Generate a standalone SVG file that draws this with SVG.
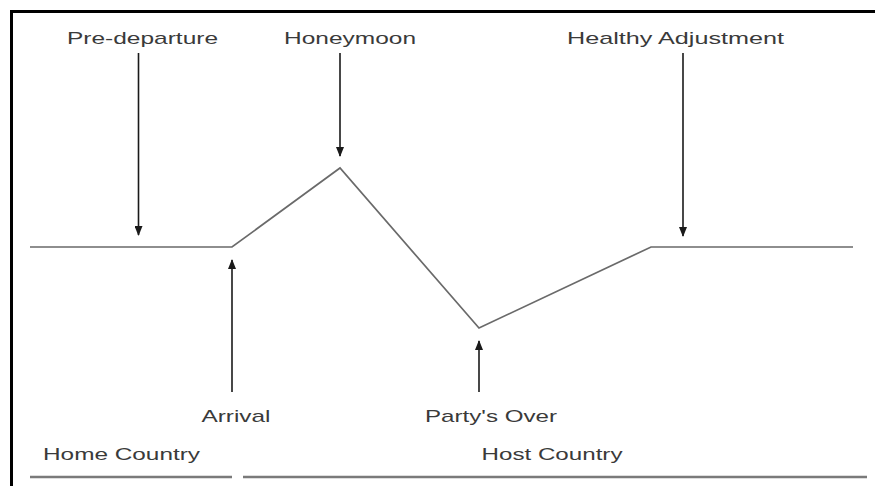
<svg xmlns="http://www.w3.org/2000/svg" width="875" height="486" viewBox="0 0 875 486">
  <defs>
    <style>
      .lbl { font-family: "Liberation Sans", Arial, sans-serif; font-size: 17px; fill: #3a3a3a; text-anchor: middle; }
      .frame { stroke: #000; stroke-width: 3; fill: none; }
      .curve { stroke: #6a6a6a; stroke-width: 1.7; fill: none; stroke-linejoin: miter; }
      .base { stroke: #7a7a7a; stroke-width: 2.5; fill: none; }
      .arrow { stroke: #1a1a1a; stroke-width: 1.6; fill: none; marker-end: url(#head); }
    </style>
    <marker id="head" viewBox="0 0 10 8" refX="9" refY="4" markerWidth="10" markerHeight="8" markerUnits="userSpaceOnUse" orient="auto">
      <path d="M0,0 L10,4 L0,8 Z" fill="#1a1a1a"/>
    </marker>
  </defs>

  <rect width="875" height="486" fill="#fff"/>

  <!-- frame: top and left edges -->
  <path class="frame" d="M11.5,486 V11.5 H875"/>

  <!-- adjustment curve -->
  <g id="curve">
    <polyline class="curve" points="30,247 232,247 340,168 479,328 651,247 853,247"/>
  </g>

  <!-- country baselines -->
  <g id="home-country">
    <line class="base" x1="30" y1="477" x2="232" y2="477"/>
    <text class="lbl" x="121.5" y="460" textLength="157" lengthAdjust="spacingAndGlyphs">Home Country</text>
  </g>
  <g id="host-country">
    <line class="base" x1="243" y1="477" x2="867" y2="477"/>
    <text class="lbl" x="552" y="460" textLength="141" lengthAdjust="spacingAndGlyphs">Host Country</text>
  </g>

  <!-- stage labels -->
  <g id="pre-departure">
    <text class="lbl" x="142.5" y="44" textLength="151" lengthAdjust="spacingAndGlyphs">Pre-departure</text>
  </g>
  <g id="honeymoon">
    <text class="lbl" x="350" y="44" textLength="132" lengthAdjust="spacingAndGlyphs">Honeymoon</text>
  </g>
  <g id="healthy-adjustment">
    <text class="lbl" x="675.5" y="44" textLength="217" lengthAdjust="spacingAndGlyphs">Healthy Adjustment</text>
  </g>
  <g id="arrival">
    <text class="lbl" x="236" y="421.5" textLength="69" lengthAdjust="spacingAndGlyphs">Arrival</text>
  </g>
  <g id="partys-over">
    <text class="lbl" x="491" y="421.5" textLength="132" lengthAdjust="spacingAndGlyphs">Party's Over</text>
  </g>

  <!-- pointers from labels to the curve -->
  <g id="connectors">
    <line class="arrow" x1="138.5" y1="53" x2="138.5" y2="235"/>
    <line class="arrow" x1="340" y1="53" x2="340" y2="156"/>
    <line class="arrow" x1="683" y1="53" x2="683" y2="236"/>
    <line class="arrow" x1="232" y1="392" x2="232" y2="260"/>
    <line class="arrow" x1="479" y1="392" x2="479" y2="341"/>
  </g>
</svg>
